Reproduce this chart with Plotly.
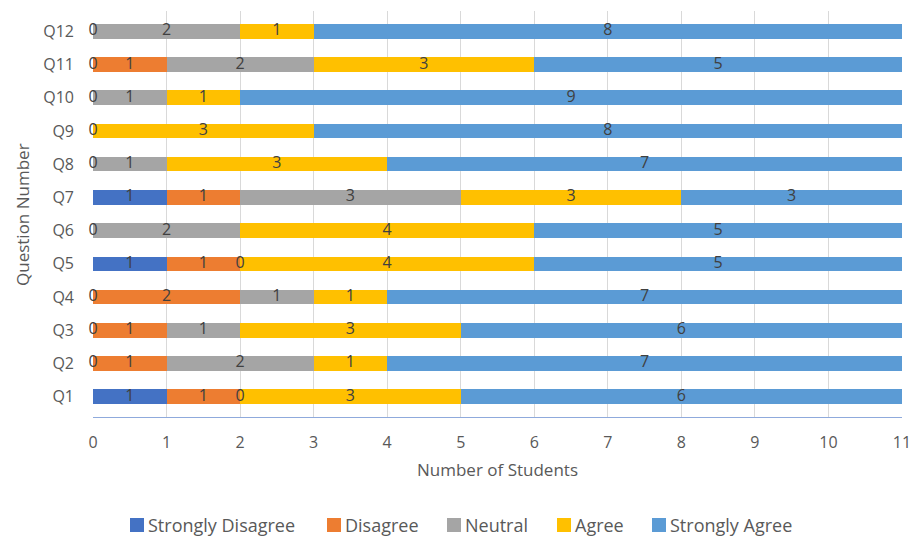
import plotly.graph_objects as go

questions = ["Q1", "Q2", "Q3", "Q4", "Q5", "Q6", "Q7", "Q8", "Q9", "Q10", "Q11", "Q12"]
strongly_disagree = [1, 0, 0, 0, 1, 0, 1, 0, 0, 0, 0, 0]
disagree = [1, 1, 1, 2, 1, 0, 1, 0, 0, 0, 1, 0]
neutral = [0, 2, 1, 1, 0, 2, 3, 1, 0, 1, 2, 2]
agree = [3, 1, 3, 1, 4, 4, 3, 3, 3, 1, 3, 1]
strongly_agree = [6, 7, 6, 7, 5, 5, 3, 7, 8, 9, 5, 8]

series_names = ["Strongly Disagree", "Disagree", "Neutral", "Agree", "Strongly Agree"]
series_values = [strongly_disagree, disagree, neutral, agree, strongly_agree]
colors = ["#4472C4", "#ED7D31", "#A5A5A5", "#FFC000", "#5B9BD5"]
x_ticks = list(range(0, 12))

FONT = "Open Sans, sans-serif"
fig = go.Figure()

for name, vals, col in zip(series_names, series_values, colors):
    fig.add_trace(go.Bar(
        y=questions, x=vals, name=name, orientation="h",
        marker=dict(color=col, line=dict(width=0)),
        hoverinfo="skip", showlegend=False,
    ))

# data labels (one label per distinct position)
lx, ly, lt = [], [], []
seen = set()
base = [0] * len(questions)
for vals in series_values:
    for i, v in enumerate(vals):
        pos = (base[i] + v / 2, questions[i])
        if pos not in seen:
            seen.add(pos)
            lx.append(pos[0])
            ly.append(pos[1])
            lt.append(str(v))
        base[i] += v
fig.add_trace(go.Scatter(
    x=lx, y=ly, text=lt, mode="text", showlegend=False, hoverinfo="skip",
    cliponaxis=False,
    textfont=dict(family=FONT, size=16, color="#404040"),
))

L, R, T, B = 93, 13, 11, 119
W, H = 915, 536
plot_h = H - T - B
plot_w = W - L - R


def px(x):
    return (x - L) / plot_w


def py(y):
    return (H - B - y) / plot_h


# legend drawn as colored squares + text
legend_x = [130, 327, 447, 557, 652]
leg_y = 525
shapes = []
annotations = []
for name, col, lxp in zip(series_names, colors, legend_x):
    shapes.append(dict(type="rect", xref="paper", yref="paper",
                       x0=px(lxp), x1=px(lxp + 14), y0=py(leg_y + 7), y1=py(leg_y - 7),
                       fillcolor=col, line=dict(width=0)))
    annotations.append(dict(text=name, x=px(lxp + 17), y=py(leg_y), xref="paper",
                            yref="paper", xanchor="left", yanchor="middle",
                            borderpad=0, showarrow=False,
                            font=dict(size=18, color="#595959")))

annotations += [
    dict(text="Number of Students", x=px(497), xref="paper",
         y=py(469), yref="paper", yanchor="middle",
         showarrow=False, font=dict(size=17, color="#595959")),
    dict(text="Question Number", x=px(22), y=py(215),
         xref="paper", yref="paper", xanchor="center", yanchor="middle",
         textangle=-90, showarrow=False, font=dict(size=17, color="#595959")),
]

fig.update_layout(
    barmode="stack",
    bargap=0.56,
    width=W, height=H,
    margin=dict(l=L, r=R, t=T, b=B, autoexpand=False),
    paper_bgcolor="white", plot_bgcolor="white",
    font=dict(family=FONT, size=16, color="#595959"),
    showlegend=False,
    xaxis=dict(range=[0, 11], tickvals=x_ticks, showgrid=True, gridcolor="#D9D9D9",
               gridwidth=1, zeroline=False, showline=True, linecolor="#8FAADC",
               linewidth=1, ticks="", tickfont=dict(size=16, color="#595959"),
               ticklabelstandoff=11, fixedrange=True),
    yaxis=dict(categoryorder="array", categoryarray=questions, showgrid=False,
               zeroline=False, showline=False, ticks="", ticklabelstandoff=18,
               tickfont=dict(size=16, color="#595959"), fixedrange=True),
    shapes=shapes,
    annotations=annotations,
)

fig.write_html("out.html")
